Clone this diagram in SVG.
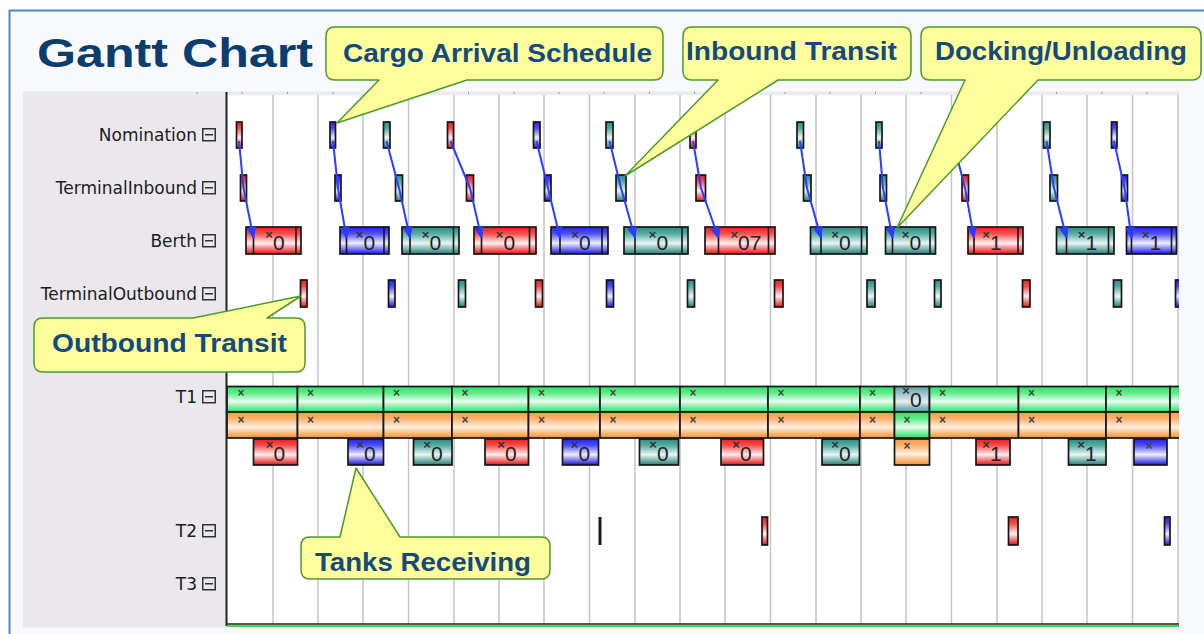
<svg xmlns="http://www.w3.org/2000/svg" width="1204" height="634" viewBox="0 0 1204 634">
  <defs>
    <style>
      .bar { stroke:#161616; stroke-width:1.7; }
      .r { fill:url(#gR); } .b { fill:url(#gB); } .t { fill:url(#gT); }
      .g { fill:url(#gG); } .o { fill:url(#gO); } .s { fill:url(#gS); }
      .div { stroke:#161616; stroke-width:1.6; fill:none; }
      .grid { stroke:#c4c4c4; stroke-width:1.5; }
      .tick { stroke:#9a9a9a; stroke-width:1; }
      .lbl { font-family:"DejaVu Sans",Verdana,sans-serif; font-size:17px; fill:#1c1c1c; text-anchor:end; }
      .val { font-family:"Liberation Sans",Arial,sans-serif; font-size:21px; fill:#222; text-anchor:middle; }
      .x { font-size:13px; font-weight:bold; fill:#333; }
      .xm { font-family:"Liberation Sans",Arial,sans-serif; font-size:12px; font-weight:bold; fill:#444; text-anchor:middle; }
      .link { stroke:#2b3dff; stroke-width:2; fill:none; marker-end:url(#arr); }
      .co { fill:#fefe9c; stroke:#4b9a2c; stroke-width:1.5; stroke-linejoin:round; }
      .cot { font-family:"Liberation Sans",Arial,sans-serif; font-weight:bold; font-size:25px; fill:#154a7e; }
    </style>
    <linearGradient id="gR" x1="0" y1="0" x2="0" y2="1">
      <stop offset="0" stop-color="#ee1e1e"/><stop offset="0.25" stop-color="#f45050"/>
      <stop offset="0.6" stop-color="#ffeeee"/><stop offset="1" stop-color="#e21010"/>
    </linearGradient>
    <linearGradient id="gB" x1="0" y1="0" x2="0" y2="1">
      <stop offset="0" stop-color="#2222ec"/><stop offset="0.25" stop-color="#5252f2"/>
      <stop offset="0.6" stop-color="#eeeeff"/><stop offset="1" stop-color="#1414d8"/>
    </linearGradient>
    <linearGradient id="gT" x1="0" y1="0" x2="0" y2="1">
      <stop offset="0" stop-color="#2a8d83"/><stop offset="0.25" stop-color="#58aca2"/>
      <stop offset="0.6" stop-color="#e8f6f4"/><stop offset="1" stop-color="#217c73"/>
    </linearGradient>
    <linearGradient id="gS" x1="0" y1="0" x2="0" y2="1">
      <stop offset="0" stop-color="#5e9ea8"/><stop offset="0.6" stop-color="#e4eff1"/>
      <stop offset="1" stop-color="#4b8f99"/>
    </linearGradient>
    <linearGradient id="gG" x1="0" y1="0" x2="0" y2="1">
      <stop offset="0" stop-color="#2fe36a"/><stop offset="0.25" stop-color="#5eeb8b"/>
      <stop offset="0.58" stop-color="#e8fdef"/><stop offset="1" stop-color="#27de5f"/>
    </linearGradient>
    <linearGradient id="gO" x1="0" y1="0" x2="0" y2="1">
      <stop offset="0" stop-color="#f89c44"/><stop offset="0.25" stop-color="#fab270"/>
      <stop offset="0.58" stop-color="#fff0e0"/><stop offset="1" stop-color="#f58e2c"/>
    </linearGradient>
    <marker id="arr" markerUnits="userSpaceOnUse" markerWidth="12" markerHeight="10" viewBox="0 0 12 10" refX="11" refY="5" orient="auto">
      <path d="M0,0 L12,5 L0,10 Z" fill="#2b3dff"/>
    </marker>
    <g id="toggle">
      <rect x="0.75" y="0.75" width="12.5" height="12" fill="none" stroke="#333" stroke-width="1.5"/>
      <line x1="3" y1="6.75" x2="11" y2="6.75" stroke="#333" stroke-width="1.5"/>
    </g>
    <clipPath id="plot"><rect x="227" y="91" width="952" height="536"/></clipPath>
  </defs>

  <!-- page and frame -->
  <rect x="0" y="0" width="1204" height="634" fill="#ffffff"/>
  <rect x="9.5" y="10.5" width="1220" height="640" fill="#f7f9fc" stroke="#4f86c6" stroke-width="2"/>

  <text x="37" y="67" font-family="Liberation Sans, Arial, sans-serif" font-weight="bold" font-size="40" fill="#0b3d6e" textLength="276" lengthAdjust="spacingAndGlyphs">Gantt Chart</text>

  <!-- row header panel -->
  <rect x="23" y="91.5" width="204" height="536" fill="#eae8ec"/>
  <rect x="227" y="91.5" width="952" height="4" fill="#ebebee"/>
  <rect x="227" y="95.5" width="952" height="529" fill="#ffffff"/>

  <g id="ticks" class="tick">
    <path d="M197,92v2M242,92v2M287.5,92v2M333,92v2M378,92v2M423,92v2M468.5,92v2M514,92v2M559,92v2M604,92v2M649.5,92v2M694.5,92v2M740,92v2M785,92v2M830,92v2M875.5,92v2M921,92v2M966,92v2M1011,92v2M1056.5,92v2M1102,92v2M1147,92v2"/>
  </g>

  <g id="grid" class="grid">
    <path d="M273,95V624M318,95V624M363,95V624M408.5,95V624M454,95V624M499,95V624M544,95V624M589.5,95V624M635,95V624M680,95V624M725,95V624M770.5,95V624M816,95V624M861,95V624M906,95V624M951.5,95V624M997,95V624M1042,95V624M1087,95V624M1132.5,95V624M1178,95V624"/>
  </g>

  <!-- row labels -->
  <g id="row-labels">
    <g id="lbl-nomination"><text class="lbl" x="197" y="141">Nomination</text><use href="#toggle" x="202" y="128"/></g>
    <g id="lbl-terminal-inbound"><text class="lbl" x="197" y="194">TerminalInbound</text><use href="#toggle" x="202" y="181"/></g>
    <g id="lbl-berth"><text class="lbl" x="197" y="247">Berth</text><use href="#toggle" x="202" y="234"/></g>
    <g id="lbl-terminal-outbound"><text class="lbl" x="197" y="300">TerminalOutbound</text><use href="#toggle" x="202" y="287"/></g>
    <g id="lbl-t1"><text class="lbl" x="197" y="403">T1</text><use href="#toggle" x="202" y="390"/></g>
    <g id="lbl-t2"><text class="lbl" x="197" y="537">T2</text><use href="#toggle" x="202" y="524"/></g>
    <g id="lbl-t3"><text class="lbl" x="197" y="590">T3</text><use href="#toggle" x="202" y="577"/></g>
  </g>

  <g clip-path="url(#plot)">
    <!-- T1 tank levels -->
    <g id="t1-upper">
      <rect class="bar g" x="227" y="386.5" width="70.5" height="25.5"/>
      <rect class="bar g" x="297.5" y="386.5" width="86" height="25.5"/>
      <rect class="bar g" x="383.5" y="386.5" width="68.5" height="25.5"/>
      <rect class="bar g" x="452" y="386.5" width="76.5" height="25.5"/>
      <rect class="bar g" x="528.5" y="386.5" width="71.5" height="25.5"/>
      <rect class="bar g" x="600" y="386.5" width="80" height="25.5"/>
      <rect class="bar g" x="680" y="386.5" width="88" height="25.5"/>
      <rect class="bar g" x="768" y="386.5" width="92" height="25.5"/>
      <rect class="bar g" x="860" y="386.5" width="34.5" height="25.5"/>
      <rect class="bar s" x="894.5" y="386.5" width="35" height="25.5"/>
      <rect class="bar g" x="929.5" y="386.5" width="89" height="25.5"/>
      <rect class="bar g" x="1018.5" y="386.5" width="87.5" height="25.5"/>
      <rect class="bar g" x="1106" y="386.5" width="64" height="25.5"/>
      <rect class="bar g" x="1170" y="386.5" width="20" height="25.5"/>
      <text class="xm" x="241" y="397">×</text><text class="xm" x="310.5" y="397">×</text>
      <text class="xm" x="396.5" y="397">×</text><text class="xm" x="465" y="397">×</text>
      <text class="xm" x="541.5" y="397">×</text><text class="xm" x="613" y="397">×</text>
      <text class="xm" x="693" y="397">×</text><text class="xm" x="781" y="397">×</text>
      <text class="xm" x="872.5" y="397">×</text>
      <text class="val" x="912" y="407"><tspan class="x" dy="-12">×</tspan><tspan dy="12">0</tspan></text>
      <text class="xm" x="942.5" y="397">×</text><text class="xm" x="1031.5" y="397">×</text>
      <text class="xm" x="1119" y="397">×</text>
    </g>
    <g id="t1-lower">
      <rect class="bar o" x="227" y="412" width="70.5" height="26"/>
      <rect class="bar o" x="297.5" y="412" width="86" height="26"/>
      <rect class="bar o" x="383.5" y="412" width="68.5" height="26"/>
      <rect class="bar o" x="452" y="412" width="76.5" height="26"/>
      <rect class="bar o" x="528.5" y="412" width="71.5" height="26"/>
      <rect class="bar o" x="600" y="412" width="80" height="26"/>
      <rect class="bar o" x="680" y="412" width="88" height="26"/>
      <rect class="bar o" x="768" y="412" width="92" height="26"/>
      <rect class="bar o" x="860" y="412" width="34.5" height="26"/>
      <rect class="bar g" x="894.5" y="412" width="35" height="26"/>
      <rect class="bar o" x="929.5" y="412" width="89" height="26"/>
      <rect class="bar o" x="1018.5" y="412" width="87.5" height="26"/>
      <rect class="bar o" x="1106" y="412" width="64" height="26"/>
      <rect class="bar o" x="1170" y="412" width="20" height="26"/>
      <text class="xm" x="241" y="424">×</text><text class="xm" x="310.5" y="424">×</text>
      <text class="xm" x="396.5" y="424">×</text><text class="xm" x="465" y="424">×</text>
      <text class="xm" x="541.5" y="424">×</text><text class="xm" x="613" y="424">×</text>
      <text class="xm" x="693" y="424">×</text><text class="xm" x="781" y="424">×</text>
      <text class="xm" x="872.5" y="424">×</text><text class="xm" x="907" y="424">×</text>
      <text class="xm" x="942.5" y="424">×</text><text class="xm" x="1031.5" y="424">×</text>
      <text class="xm" x="1119" y="424">×</text>
    </g>
    <g id="t1-receipts">
      <g id="rcv-1"><rect class="bar r" x="253.5" y="439" width="44" height="26"/><text class="val" x="275.5" y="461"><tspan class="x" dy="-12">×</tspan><tspan dy="12">0</tspan></text></g>
      <g id="rcv-2"><rect class="bar b" x="348" y="439" width="35.5" height="26"/><text class="val" x="366" y="461"><tspan class="x" dy="-12">×</tspan><tspan dy="12">0</tspan></text></g>
      <g id="rcv-3"><rect class="bar t" x="413.5" y="439" width="38.5" height="26"/><text class="val" x="433" y="461"><tspan class="x" dy="-12">×</tspan><tspan dy="12">0</tspan></text></g>
      <g id="rcv-4"><rect class="bar r" x="485" y="439" width="43.5" height="26"/><text class="val" x="507" y="461"><tspan class="x" dy="-12">×</tspan><tspan dy="12">0</tspan></text></g>
      <g id="rcv-5"><rect class="bar b" x="562.5" y="439" width="36" height="26"/><text class="val" x="580.5" y="461"><tspan class="x" dy="-12">×</tspan><tspan dy="12">0</tspan></text></g>
      <g id="rcv-6"><rect class="bar t" x="639.5" y="439" width="39" height="26"/><text class="val" x="659" y="461"><tspan class="x" dy="-12">×</tspan><tspan dy="12">0</tspan></text></g>
      <g id="rcv-7"><rect class="bar r" x="721" y="439" width="42.5" height="26"/><text class="val" x="742" y="461"><tspan class="x" dy="-12">×</tspan><tspan dy="12">0</tspan></text></g>
      <g id="rcv-8"><rect class="bar t" x="822" y="439" width="37.5" height="26"/><text class="val" x="841" y="461"><tspan class="x" dy="-12">×</tspan><tspan dy="12">0</tspan></text></g>
      <g id="rcv-9"><rect class="bar o" x="894.5" y="439" width="35" height="26"/><text class="xm" x="907" y="450">×</text></g>
      <g id="rcv-10"><rect class="bar r" x="976" y="439" width="34" height="26"/><text class="val" x="992" y="461"><tspan class="x" dy="-12">×</tspan><tspan dy="12">1</tspan></text></g>
      <g id="rcv-11"><rect class="bar t" x="1068.5" y="439" width="37.5" height="26"/><text class="val" x="1087" y="461"><tspan class="x" dy="-12">×</tspan><tspan dy="12">1</tspan></text></g>
      <g id="rcv-12"><rect class="bar b" x="1134" y="439" width="33" height="26"/><text class="xm" x="1149" y="450">×</text></g>
    </g>

    <!-- Nomination -->
    <g id="nomination">
      <rect id="nom-1" class="bar r" x="236.5" y="122" width="5.5" height="26"/>
      <rect id="nom-2" class="bar b" x="330" y="122" width="5.5" height="26"/>
      <rect id="nom-3" class="bar t" x="383.5" y="122" width="6.5" height="26"/>
      <rect id="nom-4" class="bar r" x="447.5" y="122" width="6" height="26"/>
      <rect id="nom-5" class="bar b" x="533.5" y="122" width="6.5" height="26"/>
      <rect id="nom-6" class="bar t" x="606" y="122" width="7" height="26"/>
      <rect id="nom-7" class="bar r" x="690" y="122" width="6" height="26"/>
      <rect id="nom-8" class="bar t" x="797" y="122" width="6.5" height="26"/>
      <rect id="nom-9" class="bar t" x="876" y="122" width="6" height="26"/>
      <rect id="nom-10" class="bar r" x="950" y="122" width="6" height="26"/>
      <rect id="nom-11" class="bar t" x="1043.5" y="122" width="6.5" height="26"/>
      <rect id="nom-12" class="bar b" x="1111.5" y="122" width="5.5" height="26"/>
    </g>
    <!-- TerminalInbound -->
    <g id="terminal-inbound">
      <rect id="tin-1" class="bar r" x="240.5" y="175" width="6" height="26"/>
      <rect id="tin-2" class="bar b" x="335" y="175" width="6" height="26"/>
      <rect id="tin-3" class="bar t" x="395.5" y="175" width="7" height="26"/>
      <rect id="tin-4" class="bar r" x="466.5" y="175" width="7" height="26"/>
      <rect id="tin-5" class="bar b" x="544.5" y="175" width="6.5" height="26"/>
      <rect id="tin-6" class="bar t" x="616" y="175" width="10" height="26"/>
      <rect id="tin-7" class="bar r" x="696" y="175" width="9.5" height="26"/>
      <rect id="tin-8" class="bar t" x="803.5" y="175" width="7.5" height="26"/>
      <rect id="tin-9" class="bar t" x="880" y="175" width="6.5" height="26"/>
      <rect id="tin-10" class="bar r" x="962" y="175" width="6.5" height="26"/>
      <rect id="tin-11" class="bar t" x="1050" y="175" width="7.5" height="26"/>
      <rect id="tin-12" class="bar b" x="1121.5" y="175" width="6" height="26"/>
    </g>
    <!-- Berth -->
    <g id="berth">
      <g id="berth-1"><rect class="bar r" x="246" y="227" width="55" height="27"/><path class="div" d="M253.5,227V254M296,227V254"/><text class="val" x="275" y="250"><tspan class="x" dy="-11">×</tspan><tspan dy="11">0</tspan></text></g>
      <g id="berth-2"><rect class="bar b" x="340" y="227" width="49" height="27"/><path class="div" d="M346.5,227V254M384,227V254"/><text class="val" x="365.5" y="250"><tspan class="x" dy="-11">×</tspan><tspan dy="11">0</tspan></text></g>
      <g id="berth-3"><rect class="bar t" x="402" y="227" width="57" height="27"/><path class="div" d="M410,227V254M453.5,227V254"/><text class="val" x="431.5" y="250"><tspan class="x" dy="-11">×</tspan><tspan dy="11">0</tspan></text></g>
      <g id="berth-4"><rect class="bar r" x="474" y="227" width="62" height="27"/><path class="div" d="M481.5,227V254M529.5,227V254"/><text class="val" x="505.5" y="250"><tspan class="x" dy="-11">×</tspan><tspan dy="11">0</tspan></text></g>
      <g id="berth-5"><rect class="bar b" x="551" y="227" width="57" height="27"/><path class="div" d="M560,227V254M602,227V254"/><text class="val" x="581" y="250"><tspan class="x" dy="-11">×</tspan><tspan dy="11">0</tspan></text></g>
      <g id="berth-6"><rect class="bar t" x="624" y="227" width="64" height="27"/><path class="div" d="M635,227V254M682,227V254"/><text class="val" x="658.5" y="250"><tspan class="x" dy="-11">×</tspan><tspan dy="11">0</tspan></text></g>
      <g id="berth-7"><rect class="bar r" x="705" y="227" width="70" height="27"/><path class="div" d="M718.5,227V254M768.5,227V254"/><text class="val" x="746" y="250"><tspan class="x" dy="-11">×</tspan><tspan dy="11">07</tspan></text></g>
      <g id="berth-8"><rect class="bar t" x="810.5" y="227" width="56.5" height="27"/><path class="div" d="M821,227V254M861.5,227V254"/><text class="val" x="841" y="250"><tspan class="x" dy="-11">×</tspan><tspan dy="11">0</tspan></text></g>
      <g id="berth-9"><rect class="bar t" x="885.5" y="227" width="50" height="27"/><path class="div" d="M892.5,227V254M930,227V254"/><text class="val" x="911.5" y="250"><tspan class="x" dy="-11">×</tspan><tspan dy="11">0</tspan></text></g>
      <g id="berth-10"><rect class="bar r" x="968" y="227" width="55" height="27"/><path class="div" d="M974,227V254M1018,227V254"/><text class="val" x="992" y="250"><tspan class="x" dy="-11">×</tspan><tspan dy="11">1</tspan></text></g>
      <g id="berth-11"><rect class="bar t" x="1056.5" y="227" width="57.5" height="27"/><path class="div" d="M1066.5,227V254M1108.5,227V254"/><text class="val" x="1087.5" y="250"><tspan class="x" dy="-11">×</tspan><tspan dy="11">1</tspan></text></g>
      <g id="berth-12"><rect class="bar b" x="1126.5" y="227" width="50" height="27"/><path class="div" d="M1131.5,227V254M1171.5,227V254"/><text class="val" x="1151.5" y="250"><tspan class="x" dy="-11">×</tspan><tspan dy="11">1</tspan></text></g>
    </g>
    <!-- TerminalOutbound -->
    <g id="terminal-outbound">
      <rect id="tout-1" class="bar r" x="300.5" y="280" width="6.5" height="27"/>
      <rect id="tout-2" class="bar b" x="388.5" y="280" width="6.5" height="27"/>
      <rect id="tout-3" class="bar t" x="458.5" y="280" width="7" height="27"/>
      <rect id="tout-4" class="bar r" x="535.5" y="280" width="7" height="27"/>
      <rect id="tout-5" class="bar b" x="606.5" y="280" width="7" height="27"/>
      <rect id="tout-6" class="bar t" x="687.5" y="280" width="7" height="27"/>
      <rect id="tout-7" class="bar r" x="774.5" y="280" width="8.5" height="27"/>
      <rect id="tout-8" class="bar t" x="867" y="280" width="8" height="27"/>
      <rect id="tout-9" class="bar t" x="934.5" y="280" width="6.5" height="27"/>
      <rect id="tout-10" class="bar r" x="1022.5" y="280" width="7.5" height="27"/>
      <rect id="tout-11" class="bar t" x="1113.5" y="280" width="8" height="27"/>
      <rect id="tout-12" class="bar b" x="1175.5" y="280" width="6" height="27"/>
    </g>
    <!-- T2 -->
    <g id="t2">
      <rect id="t2-1" x="598.5" y="517" width="3" height="28" fill="#1c1c1c"/>
      <rect id="t2-2" class="bar r" x="762" y="517" width="5.5" height="28"/>
      <rect id="t2-3" class="bar r" x="1008.5" y="517" width="9.5" height="28"/>
      <rect id="t2-4" class="bar b" x="1164.5" y="517" width="5.5" height="28"/>
    </g>

    <!-- cargo flow links: nomination to terminal inbound to berth -->
    <g id="connectors">
      <polyline class="link" points="239,141 243.5,188 253.5,238"/>
      <polyline class="link" points="333,141 338,188 346.5,238"/>
      <polyline class="link" points="386.5,141 399,188 410,238"/>
      <polyline class="link" points="450.5,141 470,188 481.5,238"/>
      <polyline class="link" points="536.5,141 548,188 560,238"/>
      <polyline class="link" points="609.5,141 621,188 635,238"/>
      <polyline class="link" points="693,141 701,188 718.5,238"/>
      <polyline class="link" points="800,141 807,188 821,238"/>
      <polyline class="link" points="879,141 883,188 892.5,238"/>
      <polyline class="link" points="953,141 965,188 974,238"/>
      <polyline class="link" points="1046.5,141 1054,188 1066.5,238"/>
      <polyline class="link" points="1114,141 1124.5,188 1131.5,238"/>
    </g>
  </g>

  <!-- axis and baseline -->
  <line x1="226.5" y1="92" x2="226.5" y2="626" stroke="#222" stroke-width="2"/>
  <line x1="227" y1="624" x2="1179" y2="624" stroke="#222" stroke-width="1.5"/>
  <line x1="227" y1="626" x2="1179" y2="626" stroke="#33dd55" stroke-width="2"/>

  <!-- callouts -->
  <g id="callout-cargo-arrival">
    <path class="co" d="M335,27 H654 Q663,27 663,36 V71 Q663,80 654,80 H467 L337,123 L379,80 H335 Q326,80 326,71 V36 Q326,27 335,27 Z"/>
    <text class="cot" x="343" y="62" textLength="309" lengthAdjust="spacingAndGlyphs">Cargo Arrival Schedule</text>
  </g>
  <g id="callout-inbound-transit">
    <path class="co" d="M692,27 H902 Q911,27 911,36 V71 Q911,80 902,80 H778 L625,176 L718,80 H692 Q683,80 683,71 V36 Q683,27 692,27 Z"/>
    <text class="cot" x="686" y="60" textLength="211" lengthAdjust="spacingAndGlyphs">Inbound Transit</text>
  </g>
  <g id="callout-docking">
    <path class="co" d="M930,27 H1192 Q1201,27 1201,36 V71 Q1201,80 1192,80 H1038 L897,228 L965,80 H930 Q921,80 921,71 V36 Q921,27 930,27 Z"/>
    <text class="cot" x="935" y="60" textLength="252" lengthAdjust="spacingAndGlyphs">Docking/Unloading</text>
  </g>
  <g id="callout-outbound-transit">
    <path class="co" d="M43,318 H193 L301,296 L267,318 H296 Q305,318 305,327 V363 Q305,372 296,372 H43 Q34,372 34,363 V327 Q34,318 43,318 Z"/>
    <text class="cot" x="52" y="352" textLength="235" lengthAdjust="spacingAndGlyphs">Outbound Transit</text>
  </g>
  <g id="callout-tanks-receiving">
    <path class="co" d="M310,537 H340 L356,468 L400,537 H541 Q550,537 550,546 V570 Q550,579 541,579 H310 Q301,579 301,570 V546 Q301,537 310,537 Z"/>
    <text class="cot" x="315" y="571" textLength="216" lengthAdjust="spacingAndGlyphs">Tanks Receiving</text>
  </g>
</svg>
